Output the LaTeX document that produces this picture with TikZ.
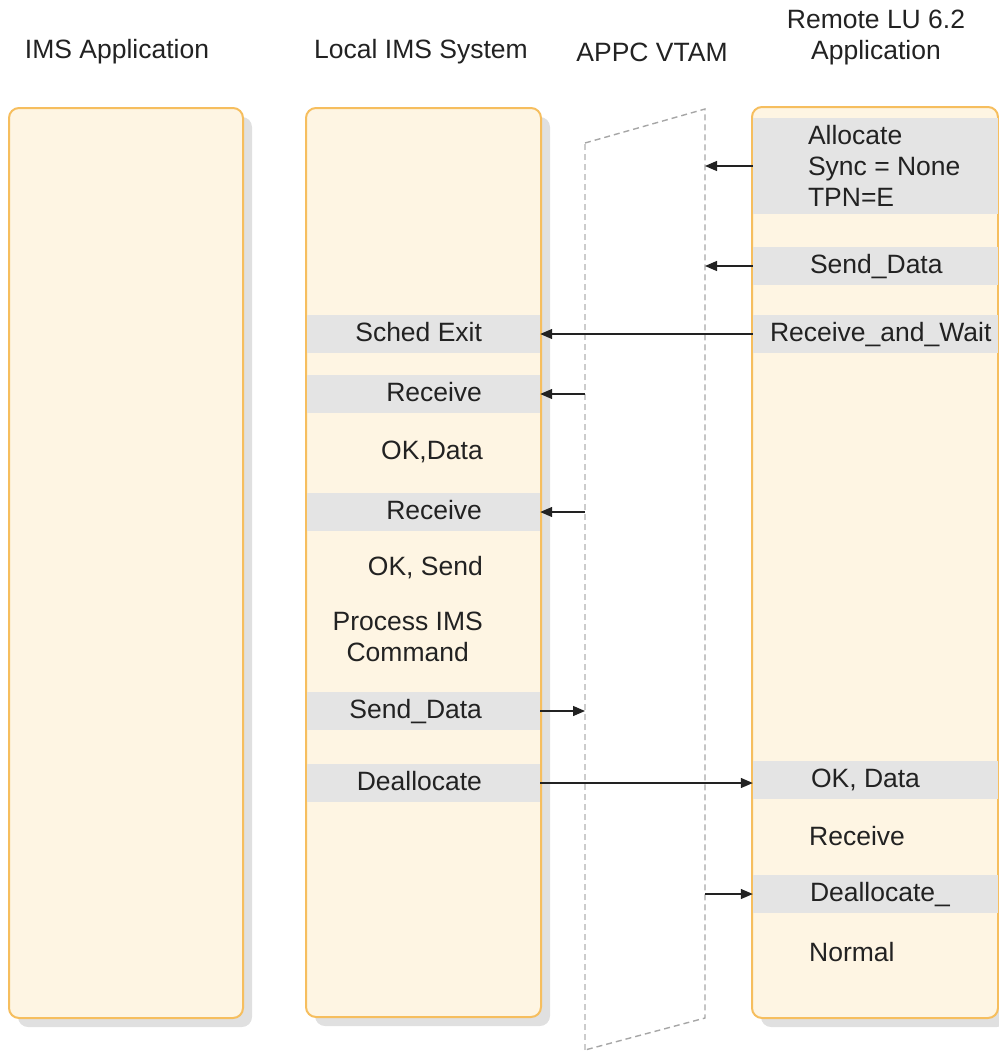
\documentclass[tikz,border=0pt]{standalone}
\usepackage{fontspec}
\setmainfont{Liberation Sans}
\usetikzlibrary{positioning, arrows.meta, shadows}
\definecolor{cream}{HTML}{FEF5E3}
\definecolor{boxline}{HTML}{F6BE5E}
\definecolor{bandgray}{HTML}{E4E4E4}
\definecolor{txt}{HTML}{222222}

\begin{document}
\begin{tikzpicture}[
    x=1pt, y=-1pt,
    every node/.style={font=\fontsize{26.5}{31}\selectfont, text=txt},
    column/.style={draw=boxline, line width=2pt, fill=cream, rounded corners=10pt,
        drop shadow={shadow xshift=9pt, shadow yshift=-9pt, fill=black!12, opacity=1}},
    band/.style={fill=bandgray, minimum height=38pt, inner sep=0pt},
    msg/.style={inner sep=0pt, text height=19pt, text depth=5pt},
    multi/.style={inner sep=0pt},
    vtam/.style={draw=gray!70, line width=1.4pt, dash pattern=on 6pt off 4pt},
    flow/.style={draw=txt, line width=1.3pt, -{Triangle[length=12pt, width=10pt]}}
]
    \useasboundingbox (0,0) rectangle (999,1053);

    % headings
    \node (h1) at (117,52) {IMS Application};
    \node (h2) at (421,52) {Local IMS System};
    \node (h3) at (652,52) {APPC VTAM};
    \node[align=center] (h4) at (876,37) {Remote LU 6.2\\Application};

    % columns
    \node[column, minimum width=234pt, minimum height=910pt] (imsapp) at (126,563) {};
    \node[column, minimum width=235pt, minimum height=909pt] (local)  at (423.5,562.5) {};
    \node[column, minimum width=246pt, minimum height=911pt] (remote) at (875,562.5) {};

    % APPC VTAM
    \coordinate (vtl) at (585,143);
    \coordinate (vtr) at (705,109);
    \coordinate (vbr) at (705,1018);
    \coordinate (vbl) at (585,1050);
    \draw[vtam] (vtl) -- (vtr) -- (vbr) -- (vbl);
    \draw[vtam, draw=gray!40] (vbl) -- (vtl);

    % local IMS side
    \node[band, minimum width=233pt] (sched)   at (423.5,334) {};
    \node[band, minimum width=233pt] (recvA)   at (423.5,394) {};
    \node[band, minimum width=233pt] (recvB)   at (423.5,512) {};
    \node[band, minimum width=233pt] (sendd)   at (423.5,711) {};
    \node[band, minimum width=233pt] (dealloc) at (423.5,783) {};

    \node[msg, left=58pt of sched.east]   {Sched Exit};
    \node[msg, left=58pt of recvA.east]   {Receive};
    \node[msg, anchor=east] (okdata) at (483,452) {OK,Data};
    \node[msg, left=58pt of recvB.east]   {Receive};
    \node[msg, anchor=east] (oksend) at (483,568) {OK, Send};
    \node[multi, align=center, anchor=east] (proc) at (483,637) {Process IMS\\Command};
    \node[msg, left=58pt of sendd.east]   {Send\_Data};
    \node[msg, left=58pt of dealloc.east] {Deallocate};

    % remote side
    \node[band, minimum width=245pt, minimum height=96pt] (ralloc) at (875.5,166) {};
    \node[band, minimum width=245pt] (rsend)    at (875.5,266) {};
    \node[band, minimum width=245pt] (rwait)    at (875.5,334) {};
    \node[band, minimum width=245pt] (rokdata)  at (875.5,780) {};
    \node[band, minimum width=245pt] (rdealloc) at (875.5,894) {};

    \node[multi, align=left, right=55pt of ralloc.west] {Allocate\\Sync = None\\TPN=E};
    \node[msg, right=57pt of rsend.west]    {Send\_Data};
    \node[msg, right=17pt of rwait.west]    {Receive\_and\_Wait};
    \node[msg, right=58pt of rokdata.west]  {OK, Data};
    \node[msg, anchor=west] (rrecv) at (809,838) {Receive};
    \node[msg, right=57pt of rdealloc.west] {Deallocate\_};
    \node[msg, anchor=west] (rnorm) at (809,954) {Normal};

    % flows
    \draw[flow] (ralloc.west) -- (ralloc.west -| vtr);
    \draw[flow] (rsend.west) -- (rsend.west -| vtr);
    \draw[flow] (rwait.west) -- (sched.east);
    \draw[flow] (recvA.east -| vtl) -- (recvA.east);
    \draw[flow] (recvB.east -| vtl) -- (recvB.east);
    \draw[flow] (sendd.east) -- (sendd.east -| vtl);
    \draw[flow] (dealloc.east) -- (dealloc.east -| rokdata.west);
    \draw[flow] (rdealloc.west -| vtr) -- (rdealloc.west);
\end{tikzpicture}
\end{document}
